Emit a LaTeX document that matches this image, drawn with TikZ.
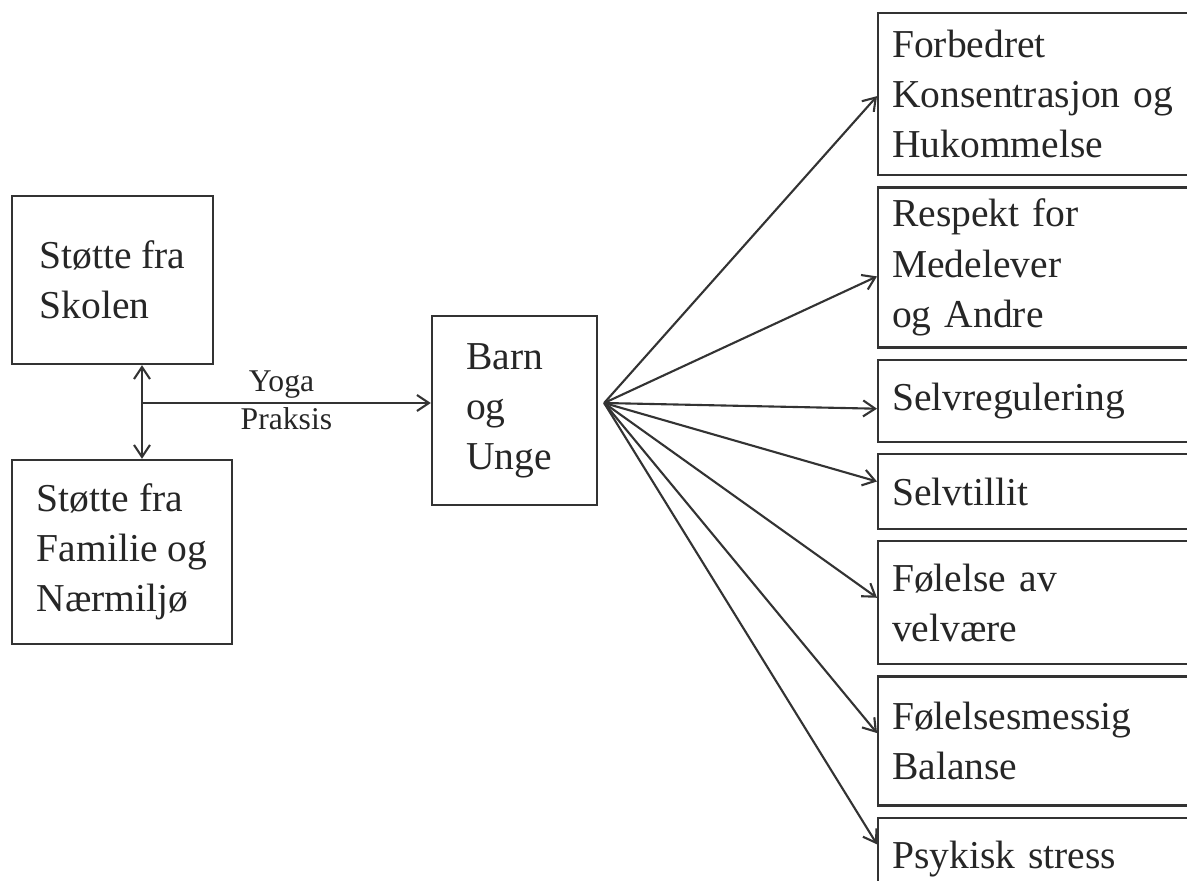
\documentclass[tikz,border=0pt]{standalone}
\usepackage{fontspec}
\setmainfont{Liberation Serif}
\usetikzlibrary{positioning,arrows.meta}

\begin{document}
\begin{tikzpicture}[
    node distance = 0.2cm,
    line width=1.2pt, draw=black!80, text=black!85,
    >={Straight Barb[length=2.4mm,width=3.2mm]},
    leftbox/.style={rectangle, draw=black!80, line width=1.3pt, align=left,
      inner xsep=0.3cm, font=\fontsize{22.5}{28.5}\selectfont},
    outbox/.style={rectangle, draw=black!80, line width=1.3pt, align=left,
      text width=6.2cm, inner xsep=0.28cm, font=\fontsize{22.5}{28.5}\selectfont},
    smalllabel/.style={font=\fontsize{18}{21}\selectfont, inner sep=2pt},
  ]
  \useasboundingbox (0,0) rectangle (23.74,17.6);

  % support and children
  \node[leftbox, minimum width=4.02cm, minimum height=3.36cm] (skolen) at (2.25,12.0)
    {Støtte fra\\Skolen};
  \node[leftbox, minimum width=4.4cm, minimum height=3.68cm] (familie) at (2.44,6.56)
    {Støtte fra\\Familie og\\Nærmiljø};
  \node[leftbox, minimum width=3.3cm, minimum height=3.78cm] (barn) at (10.29,9.39)
    {Barn\phantom{x}\\og\\Unge};

  % outcomes
  \node[outbox, anchor=north west, minimum height=3.24cm] (forbedret) at (17.54,17.36)
    {Forbedret\\Konsentrasjon og\\Hukommelse};
  \node[outbox, minimum height=3.2cm] (respekt) [below=of forbedret]
    {Respekt for\\Medelever\\og Andre};
  \node[outbox, minimum height=1.64cm] (selvreg) [below=of respekt] {Selvregulering};
  \node[outbox, minimum height=1.5cm] (selvtillit) [below=of selvreg] {Selvtillit};
  \node[outbox, minimum height=2.46cm] (velvaere) [below=of selvtillit]
    {Følelse av\\velvære};
  \node[outbox, minimum height=2.58cm] (balanse) [below=of velvaere]
    {Følelsesmessig\\Balanse};
  \node[outbox, minimum height=1.66cm] (stress) [below=of balanse] {Psykisk stress};

  \coordinate (hub) at (2.84,9.54);
  \coordinate (fan) at ([xshift=0.12cm]hub -| barn.east);

  \draw[<->] (hub |- skolen.south) -- (hub |- familie.north);
  \draw[->] (hub) -- node[smalllabel, above, xshift=-0.1cm] {Yoga}
    node[smalllabel, below] {Praksis} (hub -| barn.west);

  \foreach \out/\dy in {forbedret/-0.04, respekt/-0.18, selvreg/-0.16,
      selvtillit/0.2, velvaere/0.1, balanse/0.16, stress/0.3}
    \draw[->] (fan) -- ([yshift=\dy cm]\out.west);
\end{tikzpicture}
\end{document}
